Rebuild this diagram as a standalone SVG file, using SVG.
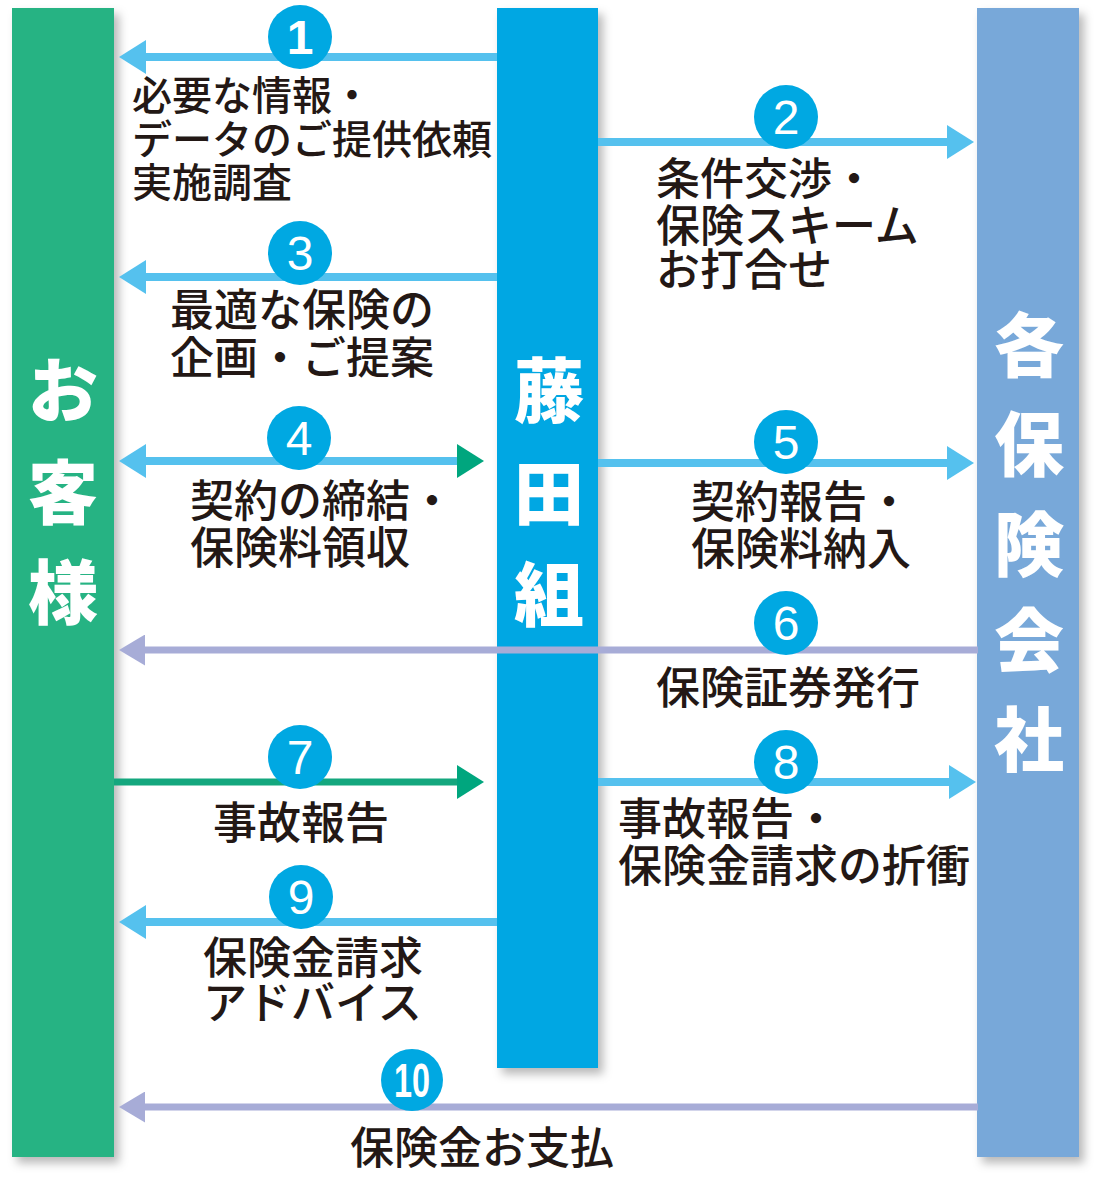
<svg xmlns="http://www.w3.org/2000/svg" width="1102" height="1191" viewBox="0 0 1102 1191">
<style>
.col-label{font-family:"Noto Sans CJK JP","Noto Sans",sans-serif;font-weight:900;font-size:70px;fill:#fff;text-anchor:middle}
.lbl{font-family:"Noto Sans CJK JP","Noto Sans",sans-serif;font-weight:500;font-size:44px;fill:#231815}
.num{font-family:"Liberation Sans",Arial,sans-serif;font-size:48px;fill:#fff;text-anchor:middle}
.step{fill:#00A8E2}
.ln-blue{stroke:#55C1EE;stroke-width:8;fill:none}
.ln-purple{stroke:#A7ACD7;stroke-width:7;fill:none}
.ln-green{stroke:#14A77E;stroke-width:7;fill:none}
</style>
<defs>
<filter id="sh" x="-20%" y="-5%" width="150%" height="115%">
<feDropShadow dx="5" dy="6" stdDeviation="5" flood-color="#000" flood-opacity="0.28"/>
</filter>
<marker id="ah-blue" markerUnits="userSpaceOnUse" markerWidth="27" markerHeight="34" refX="0" refY="17" orient="auto-start-reverse" viewBox="0 0 27 34">
<path d="M0,0 L27,17 L0,34 Z" fill="#55C1EE"/>
</marker>
<marker id="ah-green" markerUnits="userSpaceOnUse" markerWidth="27" markerHeight="34" refX="0" refY="17" orient="auto" viewBox="0 0 27 34">
<path d="M0,0 L27,17 L0,34 Z" fill="#00A67E"/>
</marker>
<marker id="ah-purple" markerUnits="userSpaceOnUse" markerWidth="26" markerHeight="31" refX="0" refY="15.5" orient="auto" viewBox="0 0 26 31">
<path d="M0,0 L26,15.5 L0,31 Z" fill="#A7ACD7"/>
</marker>
</defs>
<rect width="1102" height="1191" fill="#fff"/>

<g id="customer">
<rect x="12" y="8" width="102" height="1149" fill="#26B383" filter="url(#sh)"/>
<text class="col-label" x="63" y="417">お</text>
<text class="col-label" x="63" y="519">客</text>
<text class="col-label" x="63" y="619">様</text>
</g>

<g id="fujita">
<rect x="497" y="8" width="101" height="1060" fill="#00A7E3" filter="url(#sh)"/>
<text class="col-label" x="549" y="417">藤</text>
<text class="col-label" x="549" y="520">田</text>
<text class="col-label" x="549" y="621">組</text>
</g>

<g id="insurers">
<rect x="977" y="8" width="102" height="1149" fill="#78A8D9" filter="url(#sh)"/>
<text class="col-label" x="1029" y="372">各</text>
<text class="col-label" x="1029" y="471">保</text>
<text class="col-label" x="1029" y="571">険</text>
<text class="col-label" x="1029" y="667">会</text>
<text class="col-label" x="1029" y="766">社</text>
</g>

<g id="connectors">
<line class="ln-blue" x1="497" y1="57" x2="146" y2="57" marker-end="url(#ah-blue)"/>
<line class="ln-blue" x1="598" y1="142" x2="947" y2="142" marker-end="url(#ah-blue)"/>
<line class="ln-blue" x1="497" y1="277" x2="146" y2="277" marker-end="url(#ah-blue)"/>
<line class="ln-blue" x1="146" y1="461" x2="457" y2="461" marker-start="url(#ah-blue)" marker-end="url(#ah-green)"/>
<line class="ln-blue" x1="598" y1="463" x2="947" y2="463" marker-end="url(#ah-blue)"/>
<line class="ln-purple" x1="978" y1="650" x2="145" y2="650" marker-end="url(#ah-purple)"/>
<line class="ln-green" x1="114" y1="782" x2="457" y2="782" marker-end="url(#ah-green)"/>
<line class="ln-blue" x1="598" y1="782" x2="949" y2="782" marker-end="url(#ah-blue)"/>
<line class="ln-blue" x1="497" y1="922" x2="146" y2="922" marker-end="url(#ah-blue)"/>
<line class="ln-purple" x1="978" y1="1107" x2="145" y2="1107" marker-end="url(#ah-purple)"/>
</g>

<g id="steps">
<circle class="step" cx="300" cy="37" r="32"/><text class="num" x="300" y="54" font-weight="bold">1</text>
<circle class="step" cx="786" cy="117" r="32"/><text class="num" x="786" y="134">2</text>
<circle class="step" cx="300" cy="253" r="32"/><text class="num" x="300" y="270">3</text>
<circle class="step" cx="299" cy="438" r="32"/><text class="num" x="299" y="455">4</text>
<circle class="step" cx="786" cy="442" r="32"/><text class="num" x="786" y="459">5</text>
<circle class="step" cx="786" cy="623" r="32"/><text class="num" x="786" y="640">6</text>
<circle class="step" cx="300" cy="757" r="32"/><text class="num" x="300" y="774">7</text>
<circle class="step" cx="786" cy="762" r="32"/><text class="num" x="786" y="779">8</text>
<circle class="step" cx="301" cy="897" r="32"/><text class="num" x="301" y="914">9</text>
<circle class="step" cx="412" cy="1080" r="31"/><text class="num" x="412" y="1097" font-weight="bold" textLength="36" lengthAdjust="spacingAndGlyphs">10</text>
</g>

<g id="labels">
<text class="lbl" style="font-size:40px"><tspan x="132" y="110">必要な情報・</tspan><tspan x="132" y="154">データのご提供依頼</tspan><tspan x="132" y="197">実施調査</tspan></text>
<text class="lbl"><tspan x="656" y="195">条件交渉・</tspan><tspan x="656" y="242">保険スキーム</tspan><tspan x="656" y="286">お打合せ</tspan></text>
<text class="lbl"><tspan x="170" y="326">最適な保険の</tspan><tspan x="170" y="374">企画・ご提案</tspan></text>
<text class="lbl"><tspan x="190" y="517">契約の締結・</tspan><tspan x="190" y="564">保険料領収</tspan></text>
<text class="lbl"><tspan x="691" y="518">契約報告・</tspan><tspan x="691" y="565">保険料納入</tspan></text>
<text class="lbl" x="656" y="704">保険証券発行</text>
<text class="lbl" x="213" y="839">事故報告</text>
<text class="lbl"><tspan x="618" y="835">事故報告・</tspan><tspan x="618" y="882">保険金請求の折衝</tspan></text>
<text class="lbl"><tspan x="203" y="974">保険金請求</tspan><tspan x="203" y="1019">アドバイス</tspan></text>
<text class="lbl" x="350" y="1164">保険金お支払</text>
</g>
</svg>
